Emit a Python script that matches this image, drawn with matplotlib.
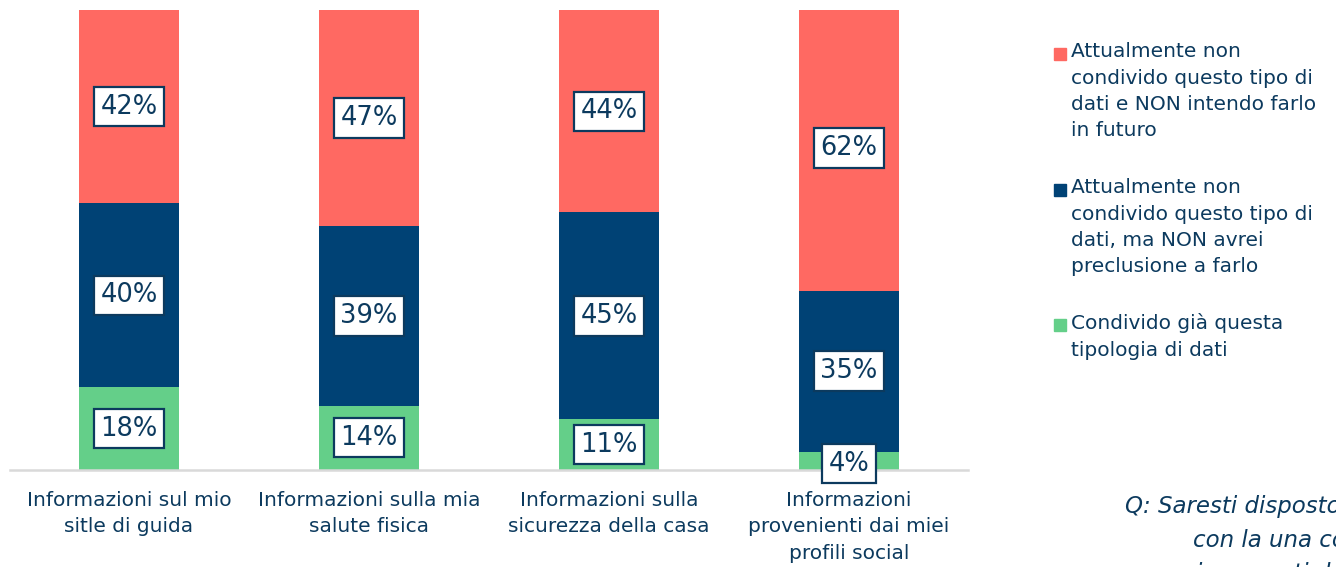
import numpy as np
import matplotlib
matplotlib.use("Agg")
import matplotlib.pyplot as plt

# ---------------------------------------------------------------------------
# Data (share of respondents, %)
# ---------------------------------------------------------------------------
categories = [
    "Informazioni sul mio\nsitle di guida",
    "Informazioni sulla mia\nsalute fisica",
    "Informazioni sulla\nsicurezza della casa",
    "Informazioni\nprovenienti dai miei\nprofili social",
]
already_shared = [18, 14, 11, 4]
open_to_share = [40, 39, 45, 35]
not_intending = [42, 47, 44, 62]

series_labels = [
    "Attualmente non\ncondivido questo tipo di\ndati e NON intendo farlo\nin futuro",
    "Attualmente non\ncondivido questo tipo di\ndati, ma NON avrei\npreclusione a farlo",
    "Condivido già questa\ntipologia di dati",
]

RED = "#FF6962"
NAVY = "#004275"
GREEN = "#64CF89"
TEXT = "#0C3A5E"

plt.rcParams["font.family"] = ["DejaVu Sans"]

W, H = 1336, 567
fig = plt.figure(figsize=(W / 100, H / 100), dpi=100)
ax = fig.add_axes([10 / W, 1 - 470 / H, 958 / W, 460 / H])

x = np.arange(len(categories))
width = 100 / 240

green = np.array(already_shared)
navy = np.array(open_to_share)
red = np.array(not_intending)

ax.bar(x, green, width, color=GREEN, zorder=2)
ax.bar(x, navy, width, bottom=green, color=NAVY, zorder=2)
ax.bar(x, red, width, bottom=green + navy, color=RED, zorder=2)

box = dict(boxstyle="square,pad=0.26", fc="white", ec=TEXT, lw=1.6)
for i in range(len(categories)):
    segs = [(0, green[i]), (green[i], navy[i]), (green[i] + navy[i], red[i])]
    for bottom, h in segs:
        y = bottom + h / 2
        if h < 8:
            y = bottom + h / 2 - 0.6
        ax.text(x[i], y, f"{h}%", ha="center", va="center", fontsize=18.5,
                color=TEXT, bbox=box, zorder=5)

ax.set_xlim(-0.496, 3.496)
ax.set_ylim(0, 100)
ax.set_yticks([])
ax.set_xticks(x)
ax.set_xticklabels(categories, fontsize=14.5, color=TEXT, linespacing=1.5)
ax.tick_params(axis="x", length=0, pad=15)
for s in ["top", "left", "right"]:
    ax.spines[s].set_visible(False)
ax.spines["bottom"].set_color("#D9D9D9")
ax.spines["bottom"].set_linewidth(1.8)

# legend drawn manually to follow the reference layout
leg_y = [54, 190, 325]
leg_colors = [RED, NAVY, GREEN]
for yy, col, lab in zip(leg_y, leg_colors, series_labels):
    fig.patches.append(plt.Rectangle((1054 / W, 1 - (yy + 6) / H), 12 / W, 12 / H,
                                     transform=fig.transFigure, color=col))
    fig.text(1071 / W, 1 - (yy - 12) / H, lab, ha="left", va="top",
             fontsize=14.5, color=TEXT, linespacing=1.5)

# question note (cut off at the right edge, as in the source slide)
note_lines = ["Q: Saresti disposto a condividere",
              "con la una compagnia assicurativa",
              "i seguenti dati?"]
note_x = [1125, 1193, 1196]
note_y = [507, 540, 573]
for t, nx, ny in zip(note_lines, note_x, note_y):
    fig.text(nx / W, 1 - ny / H, t, ha="left", va="center", fontsize=16.5,
             style="italic", color=TEXT)

fig.savefig("out.png", dpi=100)
